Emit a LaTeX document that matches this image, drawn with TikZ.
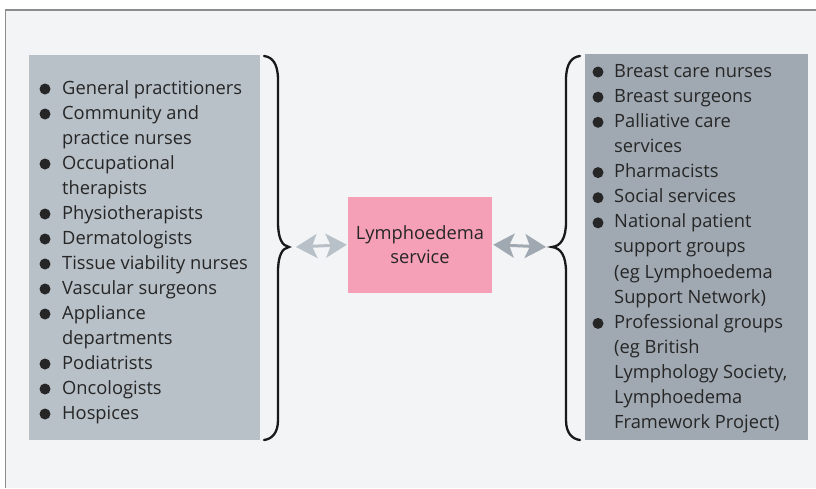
\documentclass[tikz,border=0pt]{standalone}
\usepackage{fontspec}
\setmainfont{Open Sans}
\usetikzlibrary{arrows.meta}
\definecolor{bgc}{HTML}{F3F4F6}
\definecolor{framec}{HTML}{8C8C8C}
\definecolor{lboxc}{HTML}{B8C0C8}
\definecolor{rboxc}{HTML}{A0A9B2}
\definecolor{pinkc}{HTML}{F5A0B6}
\definecolor{txtc}{HTML}{262626}
\tikzset{
  x=1pt,y=-1pt,
  listtxt/.style={anchor=base west,inner sep=0pt,text=txtc,font=\fontsize{18.3}{25}\selectfont},
  bul/.style={circle,fill=txtc,inner sep=0pt,minimum size=11pt},
  panel/.style={inner sep=0pt,draw=none},
  brace/.style={draw=black!90,line width=2.3pt,line cap=round},
  ahead/.style={arrows={Stealth[length=21pt,width=24pt,inset=5pt]-Stealth[length=21pt,width=24pt,inset=5pt]}},
  darr/.style={line width=3pt,ahead},
}
\begin{document}
\begin{tikzpicture}
\useasboundingbox (0,0) rectangle (816,488);
\fill[white] (0,0) rectangle (816,488);
\fill[bgc] (5,10) rectangle (816,488);
\draw[framec,line width=1.6pt] (5,10) -- (816,10);
\draw[framec,line width=0.8pt] (5,10) -- (5,488);
% panels
\node[panel,fill=lboxc,minimum width=231pt,minimum height=385pt] (lbox) at (144.5,247.5) {};
\node[panel,fill=rboxc,minimum width=223pt,minimum height=386pt] (rbox) at (696.5,247) {};
% left list
\foreach \k/\t/\b in {0/General practitioners/1,1/Community and/1,2/practice nurses/0,3/Occupational/1,4/therapists/0,5/Physiotherapists/1,6/Dermatologists/1,7/Tissue viability nurses/1,8/Vascular surgeons/1,9/Appliance/1,10/departments/0,11/Podiatrists/1,12/Oncologists/1,13/Hospices/1}{
  \node[listtxt] (l\k) at (62,94+25*\k) {\t};
  \ifnum\b=1 \node[bul] (lb\k) at (45,89+25*\k) {};\fi
}
% right list
\foreach \k/\t/\b in {0/Breast care nurses/1,1/Breast surgeons/1,2/Palliative care/1,3/services/0,4/Pharmacists/1,5/Social services/1,6/National patient/1,7/support groups/0,8/(eg Lymphoedema/0,9/Support Network)/0,10/Professional groups/1,11/(eg British/0,12/{Lymphology Society,}/0,13/Lymphoedema/0,14/Framework Project)/0}{
  \node[listtxt] (r\k) at (614,77+25.14*\k) {\t};
  \ifnum\b=1 \node[bul] (rb\k) at (598,72+25.14*\k) {};\fi
}
% centre
\node[panel,fill=pinkc,minimum width=144pt,minimum height=96pt,align=center,text=txtc,font=\fontsize{18.3}{24}\selectfont] (svc) at (420,244.7) {Lymphoedema\\service};
% braces
\draw[brace] (264,56) .. controls (272,57) and (278,63) .. (278,80) -- (278,222) .. controls (278,238) and (282,246) .. (289,247) .. controls (282,248) and (278,256) .. (278,272) -- (278,420) .. controls (278,433) and (272,439) .. (264,440);
\draw[brace] (580,56) .. controls (572,57) and (566,63) .. (566,80) -- (566,222) .. controls (566,238) and (561,246) .. (552,247) .. controls (561,248) and (566,256) .. (566,272) -- (566,420) .. controls (566,433) and (572,439) .. (580,440);
\coordinate (lt) at (296,247);
\coordinate (rt) at (546,247);
\draw[darr,lboxc] (lt) -- ([xshift=-1pt]svc.west);
\draw[darr,rboxc] ([xshift=1pt]svc.east) -- (rt);
\end{tikzpicture}
\end{document}
